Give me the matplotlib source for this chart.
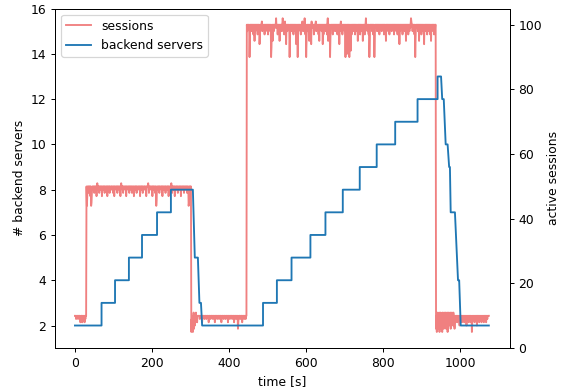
import numpy as np
import matplotlib
matplotlib.use('Agg')
import matplotlib.pyplot as plt

# backend servers: (time [s], count) vertices
server_times = [0, 69, 69, 104, 104, 140, 140, 174, 174, 213, 213, 249, 249,
                306, 311, 319, 323, 327, 330,
                488, 488, 524, 524, 562, 562, 611, 611, 650, 650, 695, 695,
                739, 739, 783, 783, 831, 831, 889, 889, 941, 941,
                950, 953, 957, 962, 967, 971, 973, 975, 986, 994, 997, 1001, 1074]
server_counts = [2, 2, 3, 3, 4, 4, 5, 5, 6, 6, 7, 7, 8,
                 8, 5, 5, 3, 3, 2,
                 2, 3, 3, 4, 4, 5, 5, 6, 6, 7, 7, 8,
                 8, 9, 9, 10, 10, 11, 11, 12, 12, 13,
                 13, 12, 12, 10, 10, 9, 9, 7, 7, 4, 4, 2, 2]

# active sessions: one sample per second, base level per phase plus the dips seen
session_end = 1074
level_starts = [0, 30, 302, 446, 937]
levels = [10, 50, 10, 100, 10]

dips_start = {3: 9, 8: 9, 14: 8, 15: 9, 19: 8, 22: 9, 25: 8, 27: 9}

dips_50 = {31: 44, 32: 47, 34: 48, 37: 49, 40: 47, 42: 44, 43: 45, 44: 48, 47: 49,
           50: 48, 53: 49, 56: 47, 58: 51, 61: 49, 63: 48, 67: 49, 70: 47, 74: 49,
           77: 48, 81: 49, 84: 47, 88: 49, 90: 48, 95: 49, 99: 48, 102: 47, 107: 49,
           110: 48, 114: 49, 118: 47, 120: 51, 123: 49, 125: 48, 130: 49, 133: 47,
           138: 49, 141: 48, 145: 49, 148: 48, 153: 47, 157: 49, 160: 48, 166: 49,
           169: 47, 173: 49, 176: 48, 181: 49, 185: 47, 190: 51, 192: 48, 197: 49,
           201: 47, 204: 49, 208: 48, 211: 44, 212: 46, 216: 49, 219: 48, 224: 49,
           227: 47, 231: 49, 235: 48, 240: 49, 243: 47, 248: 49, 250: 51, 252: 48,
           256: 49, 259: 47, 264: 49, 267: 48, 272: 49, 275: 47, 280: 49, 283: 48,
           288: 49, 291: 48, 295: 44, 296: 45, 298: 48, 300: 49}

dips_mid = {302: 5, 303: 9, 304: 6, 305: 10, 306: 5, 307: 8, 308: 11, 309: 6,
            310: 9, 311: 7, 312: 10, 313: 8, 314: 11, 315: 9, 316: 10, 317: 8,
            324: 9, 330: 8, 336: 9, 341: 9, 347: 8, 352: 9, 358: 9, 363: 8, 369: 9,
            374: 9, 380: 8, 386: 9, 391: 9, 397: 8, 402: 9, 408: 9, 413: 8, 418: 9,
            423: 6, 424: 8, 429: 9, 434: 8, 439: 9, 443: 9}

dips_100 = {447: 98, 450: 99, 453: 90, 454: 96, 457: 98, 460: 99, 463: 97, 466: 95,
            468: 98, 471: 99, 474: 97, 477: 99, 479: 94, 480: 97, 483: 99, 485: 101,
            486: 98, 489: 99, 492: 97, 495: 98, 498: 99, 501: 97, 504: 99, 507: 98,
            509: 90, 510: 93, 513: 95, 516: 98, 519: 99, 522: 102, 523: 99, 526: 97,
            529: 98, 531: 95, 534: 99, 537: 98, 539: 102, 540: 101, 543: 97, 545: 101,
            546: 99, 548: 94, 551: 98, 554: 99, 557: 90, 558: 96, 561: 98, 564: 99,
            567: 97, 570: 99, 572: 98, 574: 94, 576: 97, 578: 90, 580: 98, 583: 99,
            586: 97, 589: 99, 590: 101, 592: 98, 596: 102, 598: 97, 600: 90, 601: 95,
            604: 98, 606: 99, 608: 95, 610: 98, 613: 94, 614: 101, 617: 99, 620: 97,
            623: 99, 625: 101, 626: 98, 629: 99, 632: 97, 634: 95, 637: 99, 640: 98,
            643: 94, 645: 97, 648: 99, 651: 98, 654: 97, 656: 102, 657: 95, 659: 98,
            662: 90, 663: 96, 666: 99, 669: 97, 672: 99, 675: 98, 678: 99, 681: 97,
            684: 99, 686: 94, 688: 98, 690: 101, 691: 99, 694: 97, 697: 99, 700: 98,
            702: 90, 704: 96, 706: 91, 709: 97, 712: 90, 714: 96, 716: 92,
            718: 97, 721: 99, 724: 98, 727: 97, 730: 99, 732: 98, 734: 95,
            737: 99, 740: 97, 743: 99, 745: 98, 747: 95, 750: 99, 752: 97, 755: 102,
            756: 99, 759: 98, 762: 97, 764: 90, 765: 95, 768: 99, 771: 98, 774: 97,
            777: 90, 778: 96, 781: 99, 784: 98, 787: 99, 790: 97, 793: 99, 796: 98,
            799: 99, 802: 97, 805: 98, 807: 95, 810: 99, 813: 98, 816: 97, 819: 99,
            822: 98, 825: 99, 828: 97, 831: 99, 834: 98, 837: 97, 840: 99, 842: 94,
            844: 98, 847: 99, 850: 97, 853: 99, 856: 98, 859: 95, 862: 99, 865: 97,
            868: 98, 870: 99, 872: 102, 873: 101, 876: 98, 879: 99, 881: 97, 883: 90,
            884: 96, 887: 99, 890: 98, 893: 95, 896: 99, 899: 97, 902: 98, 904: 99,
            906: 94, 908: 98, 911: 99, 914: 97, 917: 98, 920: 99, 922: 97, 924: 95,
            926: 98, 929: 99, 932: 97, 934: 98}

dips_end = {937: 6, 938: 10, 939: 5, 940: 11, 941: 7, 942: 10, 943: 6, 944: 9,
            945: 11, 946: 5, 947: 10, 948: 8, 949: 11, 950: 6, 951: 10, 952: 9,
            953: 5, 954: 11, 955: 8, 956: 10, 957: 6, 958: 11, 959: 9, 960: 7,
            961: 10, 962: 11, 963: 6, 964: 10, 965: 8, 966: 11, 967: 5, 968: 10,
            969: 9, 970: 11, 971: 7, 972: 10, 973: 8, 974: 11, 975: 6, 976: 10,
            977: 9, 978: 11, 979: 8, 980: 10, 981: 7, 982: 11, 983: 9, 984: 10,
            985: 6, 986: 10, 987: 8, 988: 10, 989: 9,
            992: 8, 995: 9, 998: 7, 1001: 9, 1004: 8, 1007: 9, 1010: 8, 1013: 9,
            1016: 7, 1019: 9, 1022: 8, 1025: 9, 1028: 8, 1030: 5, 1031: 8, 1034: 9,
            1037: 8, 1040: 9, 1043: 7, 1046: 9, 1049: 8, 1052: 9, 1055: 8, 1058: 9,
            1061: 8, 1064: 9, 1067: 8, 1070: 9}


def build_sessions():
    t = np.arange(0, session_end + 1)
    idx = np.searchsorted(level_starts, t, side='right') - 1
    s = np.array(levels, dtype=float)[idx]
    for dips in (dips_start, dips_50, dips_mid, dips_100, dips_end):
        for k, v in dips.items():
            s[k] = v
    return t, s


def main():
    t, sessions = build_sessions()

    dpi = 89.4
    fig, ax = plt.subplots(figsize=(572 / dpi, 389 / dpi), dpi=dpi)
    fig.subplots_adjust(left=0.096, right=0.891, top=0.978, bottom=0.105)
    ax2 = ax.twinx()

    l1, = ax2.plot(t, sessions, color='lightcoral', label='sessions')
    l2, = ax.plot(server_times, server_counts, color='tab:blue',
                  label='backend servers')

    ax.set_zorder(ax2.get_zorder() + 1)
    ax.patch.set_visible(False)

    ax.set_xlim(-52, 1128)
    ax.set_ylim(1, 16)
    ax2.set_ylim(0, 105)
    ax.set_xticks([0, 200, 400, 600, 800, 1000])
    ax.set_yticks([2, 4, 6, 8, 10, 12, 14, 16])
    ax2.set_yticks([0, 20, 40, 60, 80, 100])

    ax.set_xlabel('time [s]')
    ax.set_ylabel('# backend servers')
    ax2.set_ylabel('active sessions')
    ax.legend([l1, l2], ['sessions', 'backend servers'], loc='upper left')

    fig.savefig('out.png', dpi=dpi)


if __name__ == "__main__":
    main()
